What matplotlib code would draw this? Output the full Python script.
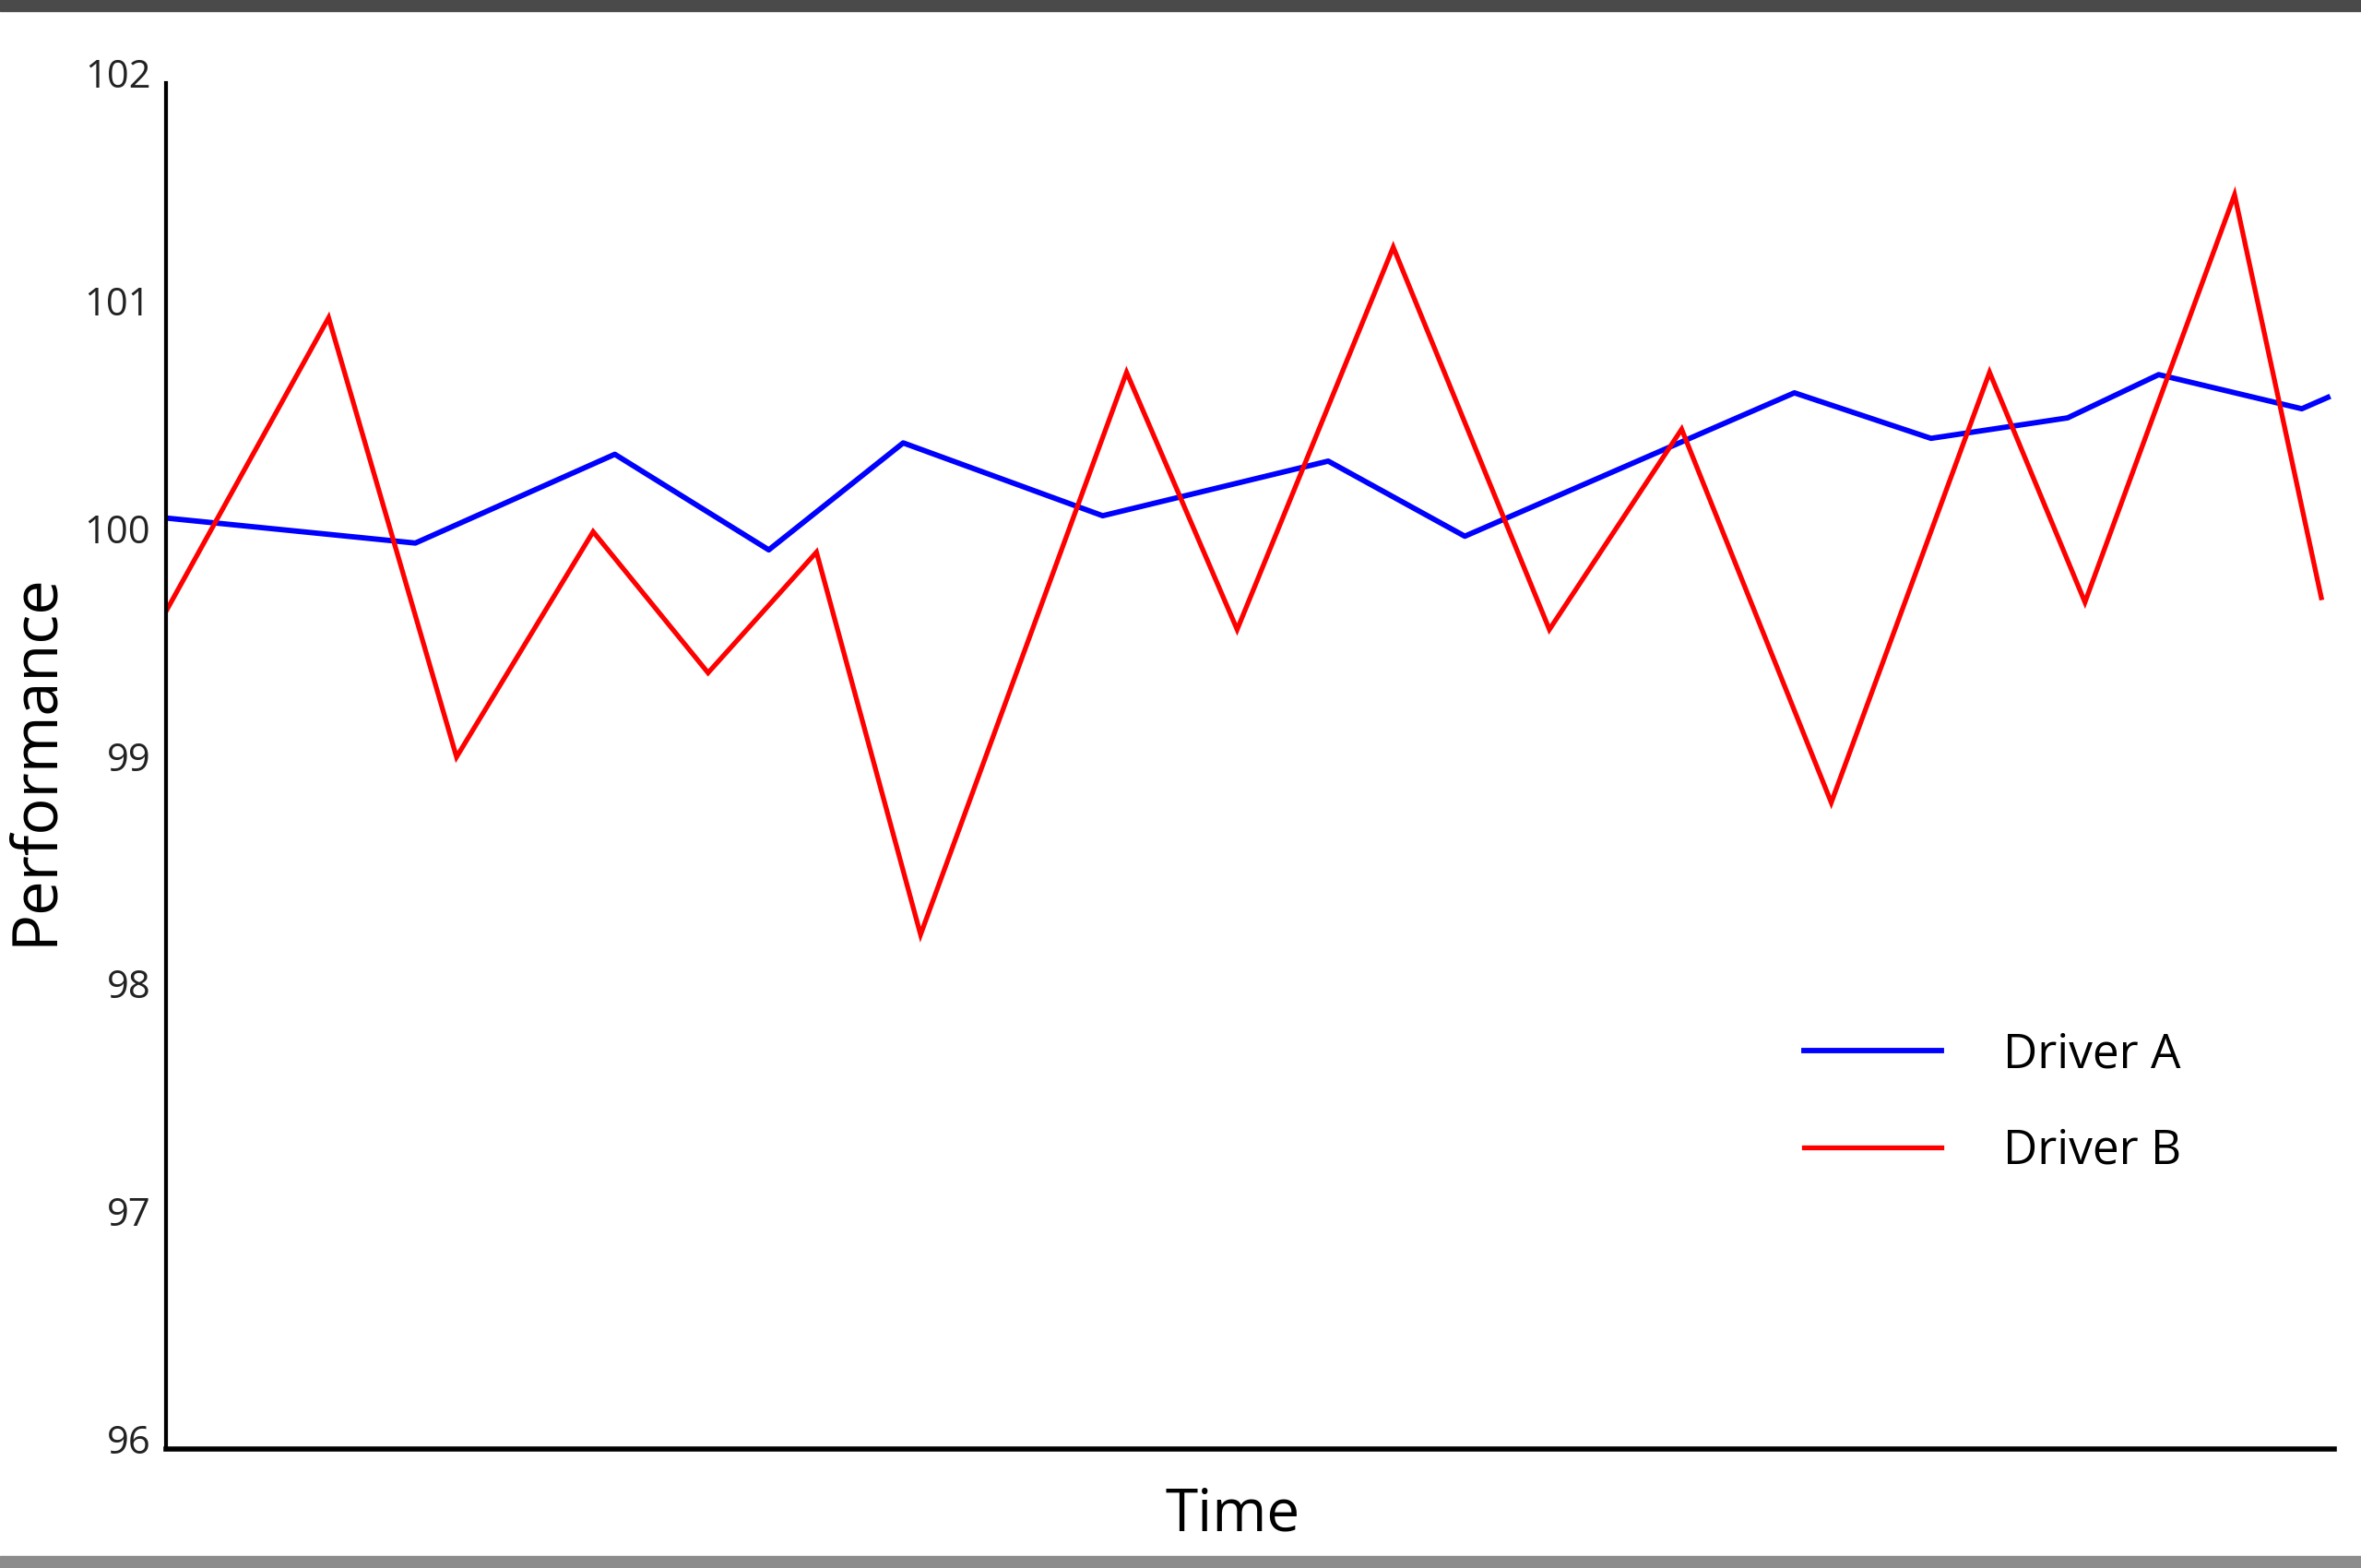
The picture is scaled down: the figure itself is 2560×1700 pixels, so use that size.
import matplotlib
matplotlib.use("Agg")
from matplotlib import pyplot as plt
from matplotlib.patches import Rectangle
import matplotlib.transforms as mtransforms

# data (time on a 0-100 scale, no ticks shown)
time_a = [0, 11.5, 20.7, 27.8, 34.0, 43.2, 53.6, 59.9, 75.1, 81.4, 87.7, 91.9, 98.5, 99.7]
driver_a = [100.09, 99.98, 100.37, 99.95, 100.42, 100.10, 100.34, 100.01, 100.64, 100.44,
            100.53, 100.72, 100.57, 100.62]
time_b = [0, 7.5, 13.4, 19.7, 25.0, 30.0, 34.8, 44.3, 49.4, 56.6, 63.8, 69.9, 76.8, 84.1,
          88.5, 95.4, 99.4]
driver_b = [99.68, 100.97, 99.04, 100.03, 99.41, 99.94, 98.26, 100.73, 99.60, 101.28,
            99.60, 100.48, 98.84, 100.73, 99.72, 101.51, 99.74]
y_ticks = [96, 97, 98, 99, 100, 101, 102]

plt.rcParams['font.family'] = ['Open Sans', 'DejaVu Sans']

fig = plt.figure(figsize=(25.6, 17), dpi=100)
ax = fig.add_axes([0.0703, 0.0759, 0.9184, 0.871])

ax.plot(time_a, driver_a, color='#0000ff', lw=4.2, label='Driver A', solid_joinstyle='round')
ax.plot(time_b, driver_b, color='#ff0000', lw=3.8, label='Driver B', solid_joinstyle='miter')

ax.set_xlim(0, 100)
ax.set_ylim(96, 102)
ax.set_xticks([])
ax.set_yticks(y_ticks)
ax.tick_params(axis='y', length=0, pad=12, labelsize=30, labelcolor='#222222')
# labels sit a little above their values in the original
offset = mtransforms.ScaledTranslation(0, 11 / 100, fig.dpi_scale_trans)
for lbl in ax.get_yticklabels():
    lbl.set_transform(lbl.get_transform() + offset)

for s in ['top', 'right']:
    ax.spines[s].set_visible(False)
ax.spines['left'].set_linewidth(3)
ax.spines['bottom'].set_linewidth(4)

ax.set_xlabel('Time', fontsize=46)
ax.xaxis.set_label_coords(0.492, -0.027)
ax.xaxis.label.set_va('top')
ax.set_ylabel('Performance', fontsize=48)
ax.yaxis.set_label_coords(-0.046, 0.505)

ax.legend(loc='upper left', bbox_to_anchor=(1956 / 2560, 1 - 1118 / 1700),
          bbox_transform=fig.transFigure, frameon=False, fontsize=37,
          handlelength=2.9, handletextpad=1.3, labelspacing=1.05, borderpad=0,
          borderaxespad=0)

# grey bands at top and bottom edge of the screenshot
fig.patches.append(Rectangle((0, 1 - 12 / 1700), 1, 12 / 1700, transform=fig.transFigure,
                             color='#4a4a4a', zorder=10))
fig.patches.append(Rectangle((0, 0), 1, 13 / 1700, transform=fig.transFigure,
                             color='#8c8c8c', zorder=10))

plt.savefig('out.png', dpi=100)
